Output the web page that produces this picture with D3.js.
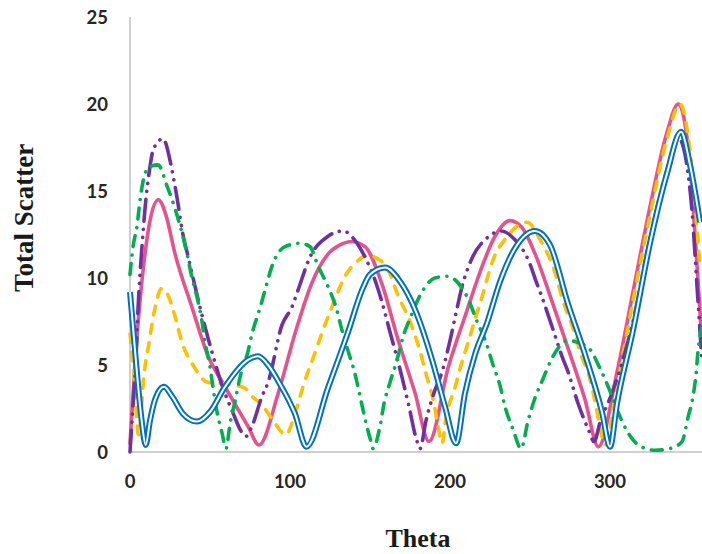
<!DOCTYPE html>
<html>
<head>
<meta charset="utf-8">
<script src="https://cdn.jsdelivr.net/npm/d3@7"></script>
<style>
  body { margin: 0; background: #fff; }
  svg { display: block; }
</style>
</head>
<body>
<svg id="chart" width="702" height="554"></svg>
<script>
// values (theta, total scatter)
const blueTheta = [0, 4.2, 7.3, 9.8, 12.5, 15.6, 21.3, 26.3, 33.1, 41.9, 50, 59.4, 73.8, 80, 86.3, 92.5, 103.1, 110.3, 123.8, 136.3, 145, 150, 159.4, 168.8, 178.1, 188.8, 196.9, 203.8, 209.4, 215.6, 223.1, 231.3, 240.6, 253.1, 262.5, 273.8, 284.4, 295, 300, 304.4, 314.4, 325, 335.6, 344.4, 350, 356.3]
const blueValues = [9.2, 4.7, 1.8, 0.4, 1.8, 3.0, 3.75, 3.2, 2.2, 1.75, 2.3, 3.75, 5.3, 5.5, 5.0, 4.1, 2.2, 0.3, 3.7, 6.9, 9.3, 10.2, 10.6, 9.8, 8.2, 5.3, 2.6, 0.5, 3.4, 5.6, 7.4, 9.8, 11.7, 12.7, 11.9, 8.5, 5.6, 2.3, 0.3, 2.8, 7.0, 12.0, 16.0, 18.4, 16.5, 13.2]

const pinkTheta = [0, 5.2, 9.4, 12.5, 17.7, 22.5, 28.1, 38.6, 48.9, 59.4, 73.9, 80.6, 92.7, 103.1, 113.6, 124.0, 131.3, 138.6, 146.9, 157.3, 167.7, 178.1, 186.9, 199.0, 209.4, 219.8, 228.1, 237.5, 245, 253.1, 263.6, 274.0, 284.4, 292.7, 304.2, 314.6, 325, 335.4, 342.7, 350, 353.1, 356.3, 357.5]
const pinkValues = [0.5, 7.6, 11.4, 13.3, 14.5, 13.6, 11.4, 8.35, 5.5, 3.75, 1.45, 0.4, 3.4, 6.8, 9.7, 11.4, 11.9, 12.1, 11.8, 9.7, 6.4, 3.4, 0.6, 4.9, 7.8, 10.6, 12.4, 13.3, 12.9, 11.4, 8.7, 5.9, 3.0, 0.3, 4.5, 9.3, 14.1, 18.3, 20.0, 16.5, 12.5, 8.0, 6.0]

const yellowTheta = [0, 2.5, 5.3, 8.8, 11.9, 15, 19.8, 23.8, 27.5, 32.5, 40, 48.8, 56.3, 63.8, 71.3, 76.3, 82.5, 88.8, 97.5, 103.1, 108.1, 115.6, 120.6, 126.9, 134.4, 142.5, 148.1, 155, 160.6, 167.5, 175, 180.6, 185.6, 190, 192.5, 195, 197.5, 203.1, 206.9, 211.3, 215.6, 220.6, 226.3, 235, 248.1, 257.5, 265, 270.6, 276.9, 281.9, 287.5, 291.3, 294.4, 296.9, 304.4, 314.4, 325, 335.6, 343.8, 350, 356.3]
const yellowValues = [6.8, 4.4, 1.0, 4.5, 6.3, 8.0, 9.4, 9.0, 8.0, 6.3, 4.9, 4.0, 3.95, 3.85, 3.7, 3.2, 2.7, 1.9, 1.0, 2.2, 3.75, 5.7, 7.0, 8.5, 10.1, 11.0, 11.3, 11.1, 10.6, 9.0, 7.5, 6.0, 4.3, 2.8, 1.5, 0.5, 2.0, 3.7, 5.0, 6.3, 7.6, 9.1, 10.9, 12.3, 13.2, 12.0, 10.5, 8.7, 7.1, 5.6, 4.2, 2.6, 1.1, 0.4, 3.8, 8.7, 13.6, 18.0, 20.0, 17.3, 10.5]

const greenTheta = [0, 1.9, 4.4, 6.3, 9.4, 12.5, 17.5, 23.1, 28.1, 32.5, 35.6, 38.8, 41.9, 45, 46.9, 50, 51.9, 54.4, 57.5, 60, 62.5, 65.6, 68.8, 73.8, 76.3, 81.3, 84.4, 88.8, 96.9, 106.3, 112.5, 117.5, 123.8, 128.8, 132.5, 136.3, 140.6, 143.8, 146.9, 150.6, 151.9, 156.3, 158.8, 162.5, 166.9, 170.6, 175.6, 181.3, 190.6, 198.1, 203.1, 211.3, 216.9, 222.5, 226.9, 231.3, 234.4, 239.4, 244.4, 248.8, 253.1, 258.1, 263.8, 273.8, 286.3, 293.8, 300, 305, 311.3, 319.4, 328.1, 337.5, 345, 348.8, 351.9, 353.8, 355, 357.5]
const greenValues = [10.2, 11.8, 13, 14.5, 16, 16.4, 16.5, 15.3, 14, 12.6, 11.4, 10, 8.9, 7.5, 6.3, 4.9, 3.7, 2.3, 1.1, 0.2, 1.6, 2.9, 4.3, 5.8, 6.8, 8.3, 9.3, 10.7, 11.8, 12.0, 11.8, 10.7, 9.5, 8.3, 7, 5.8, 4.5, 3.2, 1.9, 0.6, 0.2, 1.5, 2.8, 4, 5.3, 6.6, 7.8, 9, 10, 10.1, 9.9, 8.8, 7.5, 6.3, 5, 3.8, 2.6, 1.3, 0.2, 1.8, 3.1, 4.2, 5.4, 6.4, 6.0, 4.8, 3.5, 2.3, 1.1, 0.3, 0.1, 0.2, 0.6, 2, 3.2, 4.5, 5.8, 7.2]

const purpleTheta = [0, 2.1, 3.8, 5, 7.5, 9.4, 12.5, 14.6, 20.6, 25.6, 27.7, 29.6, 33.1, 36.4, 43.8, 48.9, 51.7, 56.9, 64.6, 69.4, 72.5, 76.3, 82.5, 86.3, 95, 101.3, 105, 112.5, 123.8, 133.1, 141.9, 146.9, 153.8, 156.9, 161.9, 170, 174.4, 178.8, 181.3, 185, 190, 195, 200, 203.8, 207.5, 213.1, 223.1, 231.9, 240.6, 250, 253.8, 257.5, 263.8, 270, 273.8, 280, 286.9, 290, 293.8, 301.3, 314.4, 325, 335.6, 343.1, 347.5, 351.3, 354.4, 357.5]
const purpleValues = [0, 3.0, 5.5, 8.2, 11.8, 14.0, 16.4, 17.4, 18.0, 16.5, 15.5, 14.5, 12.5, 11.2, 8.3, 6.5, 5.6, 4.0, 2.2, 1.2, 0.9, 1.5, 3.2, 4.0, 7.3, 8.35, 9.3, 11.2, 12.4, 12.7, 12.0, 11.2, 9.7, 8.8, 7.1, 4.3, 2.6, 0.8, 0.2, 1.8, 3.4, 4.6, 6.4, 8.0, 9.5, 11.0, 12.3, 12.7, 12.2, 10.8, 9.8, 8.9, 7.2, 5.5, 4.6, 2.8, 1.2, 0.6, 1.7, 3.4, 7.5, 12.3, 16.2, 18.0, 16.8, 13.8, 9.5, 5.2]

const yTicks = [0, 5, 10, 15, 20, 25]
const xTicks = [0, 100, 200, 300]

const zip = (xs, ys) => xs.map((t, i) => [t, ys[i]])

const svg = d3.select('#chart')

const x = d3.scaleLinear().domain([0, 360]).range([130, 706])
const y = d3.scaleLinear().domain([0, 25]).range([452, 17])

// axes, gray lines, no tick marks
svg.append('line')
  .attr('x1', x(0)).attr('x2', x(0))
  .attr('y1', y(25)).attr('y2', y(0))
  .attr('stroke', '#bfbfbf').attr('stroke-width', 1.5)
svg.append('line')
  .attr('x1', x(0)).attr('x2', 702)
  .attr('y1', y(0)).attr('y2', y(0))
  .attr('stroke', '#bfbfbf').attr('stroke-width', 1.5)

const tickFont = 'Lato, "Open Sans", sans-serif'
const titleFont = '"Liberation Serif", "Times New Roman", serif'

svg.selectAll('.ytick')
  .data(yTicks)
  .enter().append('text')
  .attr('class', 'ytick')
  .attr('x', 108)
  .attr('y', (d) => y(d))
  .attr('dy', '0.36em')
  .attr('text-anchor', 'end')
  .style('font-family', tickFont)
  .style('font-weight', 700)
  .style('font-size', '18.5px')
  .attr('fill', '#262626')
  .text((d) => d)

svg.selectAll('.xtick')
  .data(xTicks)
  .enter().append('text')
  .attr('class', 'xtick')
  .attr('x', (d) => x(d))
  .attr('y', 481)
  .attr('dy', '0.36em')
  .attr('text-anchor', 'middle')
  .style('font-family', tickFont)
  .style('font-weight', 700)
  .style('font-size', '18.5px')
  .attr('fill', '#262626')
  .text((d) => d)

svg.append('text')
  .attr('x', 418)
  .attr('y', 547)
  .attr('text-anchor', 'middle')
  .style('font-family', titleFont)
  .style('font-weight', 700)
  .style('font-size', '26px')
  .attr('fill', '#1a1a1a')
  .text('Theta')

svg.append('text')
  .attr('transform', 'translate(33,218) rotate(-90)')
  .attr('text-anchor', 'middle')
  .style('font-family', titleFont)
  .style('font-weight', 700)
  .style('font-size', '27px')
  .attr('fill', '#1a1a1a')
  .text('Total Scatter')

const line = d3.line()
  .x((d) => x(d[0]))
  .y((d) => y(d[1]))
  .curve(d3.curveMonotoneX)

const series = [
  { data: zip(pinkTheta, pinkValues), color: '#e6528b', dash: null },
  { data: zip(yellowTheta, yellowValues), color: '#ffc000', dash: '9,9.5' },
  { data: zip(purpleTheta, purpleValues), color: '#7030a0', dash: '22,8,0.1,8,0.1,8' },
  { data: zip(greenTheta, greenValues), color: '#00b050', dash: '11,8.5,0.1,8.5' }
]

const plot = svg.append('g')

series.forEach((s) => {
  plot.append('path')
    .datum(s.data)
    .attr('d', line)
    .attr('fill', 'none')
    .attr('stroke', s.color)
    .attr('stroke-width', 3.6)
    .attr('stroke-linecap', 'round')
    .attr('stroke-linejoin', 'round')
    .attr('stroke-dasharray', s.dash)
})

// blue double line: wide blue with a thin white core
const blueData = zip(blueTheta, blueValues)
plot.append('path')
  .datum(blueData)
  .attr('d', line)
  .attr('fill', 'none')
  .attr('stroke', '#0070c0')
  .attr('stroke-width', 6)
  .attr('stroke-linejoin', 'round')
plot.append('path')
  .datum(blueData)
  .attr('d', line)
  .attr('fill', 'none')
  .attr('stroke', '#ffffff')
  .attr('stroke-width', 2)
  .attr('stroke-linejoin', 'round')
</script>
</body>
</html>
